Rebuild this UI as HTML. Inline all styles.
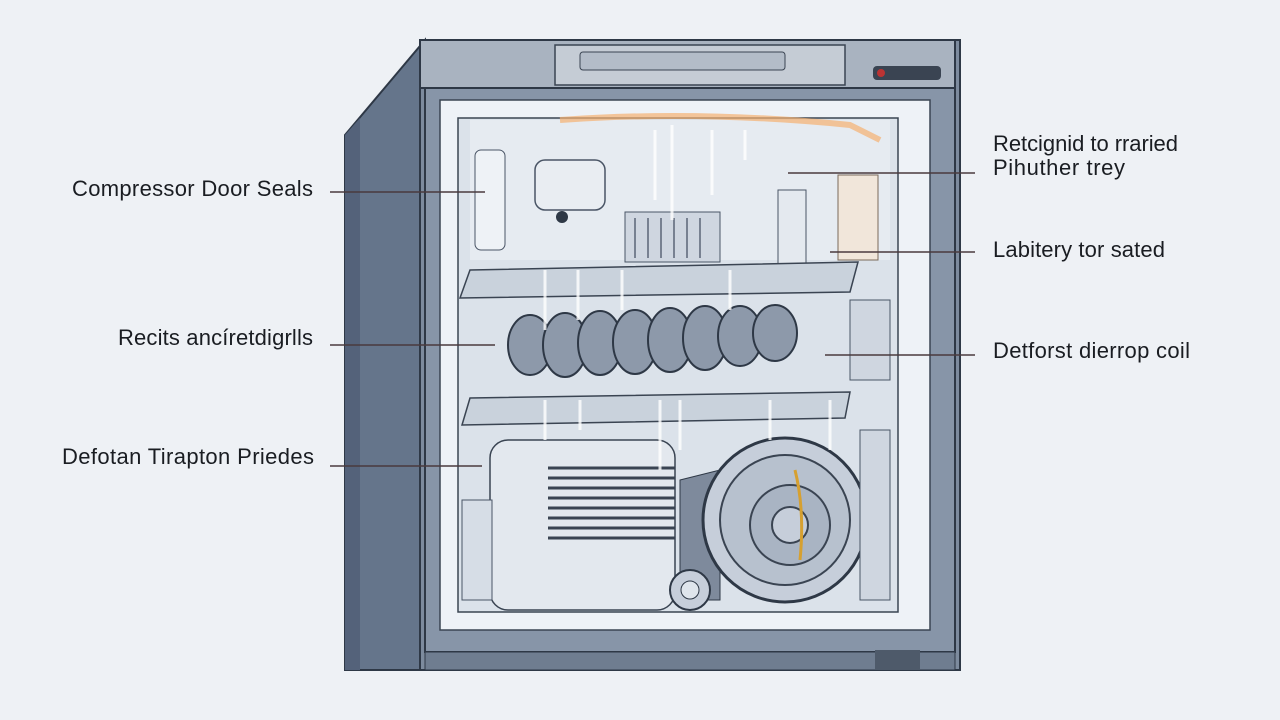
<!DOCTYPE html>
<html><head><meta charset="utf-8"><style>
html,body{margin:0;padding:0;background:#eef1f5;}
svg{display:block}
text{font-family:"Liberation Sans",sans-serif;font-size:22px;fill:#1a1d22}
</style></head><body>
<svg width="1280" height="720" viewBox="0 0 1280 720" xmlns="http://www.w3.org/2000/svg">
<rect width="1280" height="720" fill="#eef1f5"/>
<polygon points="345,135 425,40 425,670 345,670" fill="#65758b" stroke="#2e3846" stroke-width="2"/>
<polygon points="345,135 360,118 360,670 345,670" fill="#54627a"/>
<rect x="420" y="40" width="540" height="630" fill="#7d8b9e" stroke="#2e3846" stroke-width="2"/>
<rect x="420" y="40" width="535" height="48" fill="#a9b3c0" stroke="#2e3846" stroke-width="2"/>
<rect x="555" y="45" width="290" height="40" fill="#c5ccd5" stroke="#3a4452" stroke-width="1.5"/>
<rect x="580" y="52" width="205" height="18" rx="3" fill="#b3bcc8" stroke="#3a4452"/>
<rect x="873" y="66" width="68" height="14" rx="4" fill="#3a4452"/>
<circle cx="881" cy="73" r="4" fill="#b33"/>
<rect x="425" y="88" width="530" height="564" fill="#8795a8" stroke="#2e3846" stroke-width="2"/>
<rect x="440" y="100" width="490" height="530" fill="#eef2f7" stroke="#3a4452" stroke-width="1.5"/>
<rect x="458" y="118" width="440" height="494" fill="#dbe2ea" stroke="#3a4452" stroke-width="1.5"/>
<rect x="470" y="120" width="420" height="140" fill="#e6ebf1"/>
<path d="M560 120 Q700 110 850 125 L880 140" stroke="#f5b070" stroke-width="6" fill="none" opacity="0.7"/>
<rect x="475" y="150" width="30" height="100" rx="6" fill="#eef2f6" stroke="#4a5566"/>
<rect x="535" y="160" width="70" height="50" rx="10" fill="#e9edf2" stroke="#4a5566" stroke-width="1.5"/>
<circle cx="562" cy="217" r="6" fill="#2e3846"/>
<rect x="625" y="212" width="95" height="50" fill="#cfd6e0" stroke="#4a5566"/>
<g stroke="#5a6577" stroke-width="1.5">
<line x1="635" y1="218" x2="635" y2="258"/><line x1="648" y1="218" x2="648" y2="258"/><line x1="661" y1="218" x2="661" y2="258"/><line x1="674" y1="218" x2="674" y2="258"/><line x1="687" y1="218" x2="687" y2="258"/><line x1="700" y1="218" x2="700" y2="258"/>
</g>
<rect x="778" y="190" width="28" height="75" fill="#e4e9ef" stroke="#4a5566"/>
<rect x="838" y="175" width="40" height="85" fill="#f1e6da" stroke="#7a6a5a"/>
<polygon points="470,270 858,262 850,292 460,298" fill="#c9d2dc" stroke="#3a4452" stroke-width="1.5"/>
<g fill="#8d99aa" stroke="#2e3846" stroke-width="2">
<ellipse cx="530" cy="345" rx="22" ry="30"/><ellipse cx="565" cy="345" rx="22" ry="32"/><ellipse cx="600" cy="343" rx="22" ry="32"/><ellipse cx="635" cy="342" rx="22" ry="32"/><ellipse cx="670" cy="340" rx="22" ry="32"/><ellipse cx="705" cy="338" rx="22" ry="32"/><ellipse cx="740" cy="336" rx="22" ry="30"/><ellipse cx="775" cy="333" rx="22" ry="28"/>
</g>
<rect x="850" y="300" width="40" height="80" fill="#cfd6e0" stroke="#4a5566"/>
<polygon points="470,398 850,392 845,418 462,425" fill="#c9d2dc" stroke="#3a4452" stroke-width="1.5"/>
<rect x="490" y="440" width="185" height="170" rx="18" fill="#e3e8ee" stroke="#3a4452" stroke-width="1.5"/>
<rect x="462" y="500" width="30" height="100" fill="#d6dde6" stroke="#4a5566"/>
<g stroke="#3a4452" stroke-width="3">
<line x1="548" y1="468" x2="675" y2="468"/><line x1="548" y1="478" x2="675" y2="478"/><line x1="548" y1="488" x2="675" y2="488"/><line x1="548" y1="498" x2="675" y2="498"/><line x1="548" y1="508" x2="675" y2="508"/><line x1="548" y1="518" x2="675" y2="518"/><line x1="548" y1="528" x2="675" y2="528"/><line x1="548" y1="538" x2="675" y2="538"/>
</g>
<path d="M680 480 L720 470 L720 600 L680 600 Z" fill="#7e8a9c" stroke="#2e3846"/>
<circle cx="785" cy="520" r="82" fill="#c6ceda" stroke="#2e3846" stroke-width="3"/>
<circle cx="785" cy="520" r="65" fill="#b7c1ce" stroke="#3a4452" stroke-width="2"/>
<circle cx="790" cy="525" r="40" fill="#a9b4c3" stroke="#3a4452" stroke-width="2"/>
<circle cx="790" cy="525" r="18" fill="#c6ceda" stroke="#3a4452" stroke-width="2"/>
<path d="M795 470 Q805 510 800 560" stroke="#d6a030" stroke-width="3" fill="none"/>
<circle cx="690" cy="590" r="20" fill="#c6ceda" stroke="#2e3846" stroke-width="2"/>
<circle cx="690" cy="590" r="9" fill="#dfe5ec" stroke="#2e3846"/>
<rect x="860" y="430" width="30" height="170" fill="#cfd6e0" stroke="#4a5566"/>
<g stroke="#ffffff" stroke-width="3" opacity="0.8">
<line x1="655" y1="130" x2="655" y2="200"/><line x1="672" y1="125" x2="672" y2="220"/><line x1="712" y1="130" x2="712" y2="195"/><line x1="745" y1="130" x2="745" y2="160"/>
<line x1="545" y1="270" x2="545" y2="330"/><line x1="578" y1="270" x2="578" y2="320"/><line x1="622" y1="270" x2="622" y2="310"/><line x1="730" y1="270" x2="730" y2="310"/>
<line x1="545" y1="400" x2="545" y2="440"/><line x1="580" y1="400" x2="580" y2="430"/><line x1="660" y1="400" x2="660" y2="470"/><line x1="680" y1="400" x2="680" y2="450"/><line x1="770" y1="400" x2="770" y2="440"/><line x1="830" y1="400" x2="830" y2="450"/>
</g>
<rect x="425" y="652" width="530" height="18" fill="#6f7d90" stroke="#2e3846"/>
<rect x="875" y="650" width="45" height="20" fill="#4e5a6a"/>
<g stroke="#4a3a3e" stroke-width="1.5">
<line x1="330" y1="192" x2="485" y2="192"/>
<line x1="330" y1="345" x2="495" y2="345"/>
<line x1="330" y1="466" x2="482" y2="466"/>
<line x1="788" y1="173" x2="975" y2="173"/>
<line x1="830" y1="252" x2="975" y2="252"/>
<line x1="825" y1="355" x2="975" y2="355"/>
</g>
<text x="72" y="196" textLength="241">Compressor Door Seals</text>
<text x="118" y="345" textLength="195">Recits ancíretdigrlls</text>
<text x="62" y="464" textLength="252">Defotan Tirapton Priedes</text>
<text x="993" y="151" textLength="185">Retcignid to rraried</text>
<text x="993" y="175" textLength="132">Pihuther trey</text>
<text x="993" y="257" textLength="172">Labitery tor sated</text>
<text x="993" y="358" textLength="197">Detforst dierrop coil</text>
</svg>
</body></html>
